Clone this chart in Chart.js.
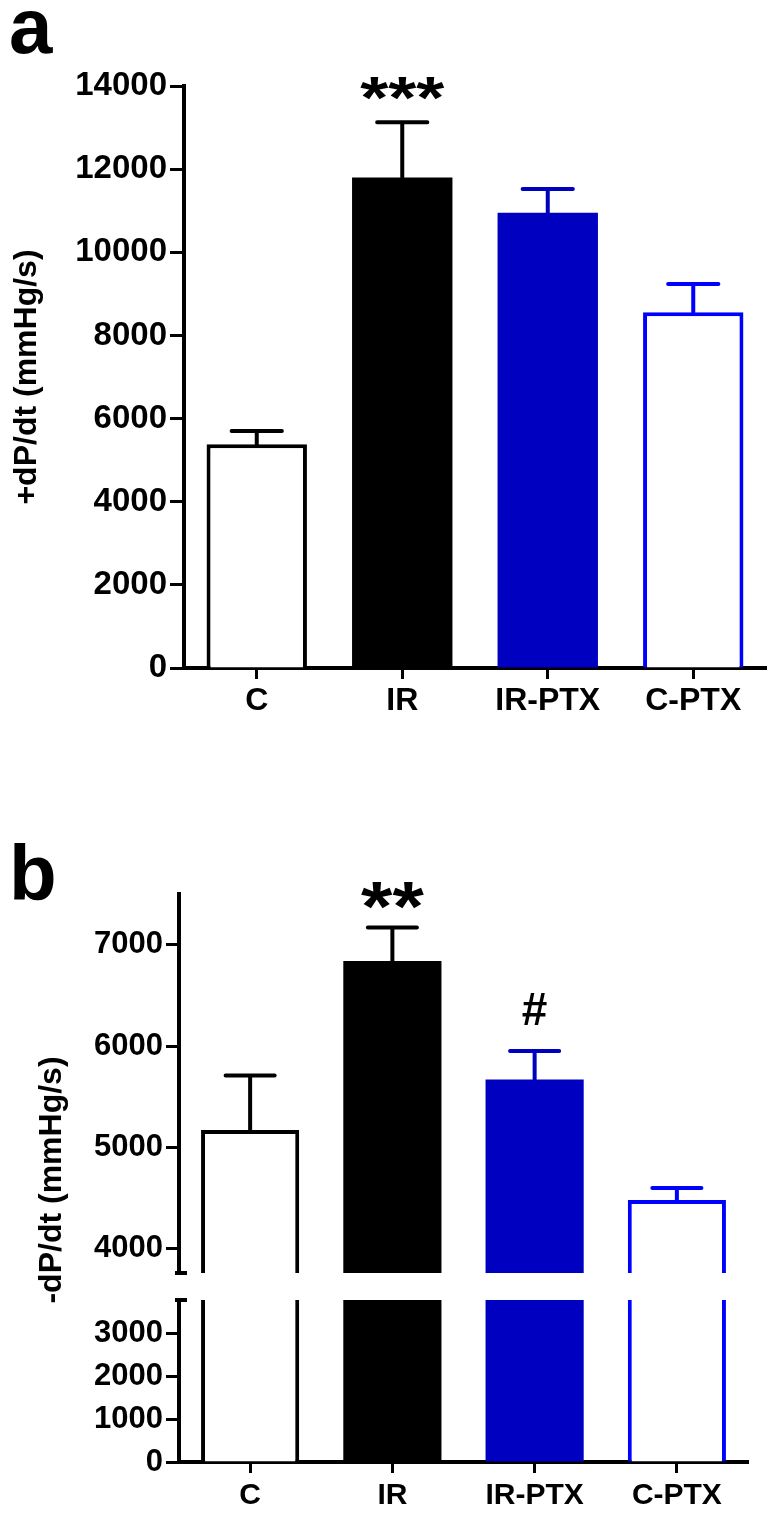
<!DOCTYPE html>
<html>
<head>
<meta charset="utf-8">
<script src="https://cdn.jsdelivr.net/npm/chart.js@4.4.1/dist/chart.umd.min.js"></script>
<style>
  html, body { margin: 0; padding: 0; background: #fff; }
  body { width: 777px; height: 1513px; position: relative; overflow: hidden; font-family: 'Liberation Sans', Arial, sans-serif; }
  canvas { position: absolute; left: 0; }
  .panel-letter { position: absolute; font-weight: bold; font-size: 78px; line-height: 78px; color: #000; }
  .axis-title { position: absolute; width: 300px; height: 38px; font-weight: bold; font-size: 32px; line-height: 38px;
                white-space: nowrap; text-align: center; transform: rotate(-90deg); color: #000; }
</style>
</head>
<body>
<div class="panel-letter" style="left:9px; top:-13px;">a</div>
<canvas id="plusChart" width="777" height="760" style="top:0"></canvas>
<div class="panel-letter" style="left:9px; top:834px;">b</div>
<canvas id="minusTop" width="777" height="510" style="top:780px"></canvas>
<canvas id="minusBottom" width="777" height="223" style="top:1290px"></canvas>
<div class="axis-title" style="left:-100px; top:1161px;">-dP/dt (mmHg/s)</div>

<script>
// Data
const groups = ['C', 'IR', 'IR-PTX', 'C-PTX'];

// panel a: +dP/dt (mean, SEM)
const plusMean = [5380, 11800, 10950, 8560];
const plusSem = [320, 1330, 570, 680];
const plusMarks = ['', '***', '', ''];
const plusTicks = [0, 2000, 4000, 6000, 8000, 10000, 12000, 14000];

// panel b: -dP/dt (mean, SEM), broken axis
const minusMean = [5170, 6840, 5670, 4480];
const minusSem = [540, 330, 280, 120];
const minusMarks = ['', '**', '#', ''];
const minusUpperTicks = [4000, 5000, 6000, 7000];
const minusLowerTicks = [0, 1000, 2000, 3000];

// axis limits either side of the break
const upperMin = 3760, upperMax = 7500;
const lowerMin = 0, lowerMax = 3770;

// Styles
const FONT = "'Liberation Sans', Arial, sans-serif";
const fillColors = ['#ffffff', '#000000', '#0000c0', '#ffffff'];
const lineColors = ['#000000', '#000000', '#0000c0', '#0000ff'];
const outlineWidths = [4, 0, 0, 4];
const markStyle = {
    '***': { size: 60, stretch: 1.2, gap: -4 },
    '**': { size: 70, stretch: 1.15, gap: 4 },
    '#': { size: 46, stretch: 1, gap: -26 }
};

// Error bars + significance marks, drawn from the bar elements and the y scale
const errorBarPlugin = {
    id: 'errorBars',
    afterDatasetsDraw(chart, args, opts) {
        const ctx = chart.ctx;
        const y = chart.scales.y;
        const meta = chart.getDatasetMeta(0);
        ctx.save();
        meta.data.forEach((bar, i) => {
            if (opts.mean[i] > y.max) return;
            const x = bar.x;
            const yTop = y.getPixelForValue(opts.mean[i]);
            const yEnd = y.getPixelForValue(opts.mean[i] + opts.sem[i]);
            const half = bar.width * 0.25;
            ctx.strokeStyle = lineColors[i];
            ctx.lineWidth = 4;
            ctx.lineCap = 'round';
            ctx.beginPath();
            ctx.moveTo(x, yTop);
            ctx.lineTo(x, yEnd);
            ctx.moveTo(x - half, yEnd);
            ctx.lineTo(x + half, yEnd);
            ctx.stroke();

            const mark = opts.marks[i];
            if (mark) {
                const st = markStyle[mark];
                ctx.save();
                ctx.translate(x, yEnd + st.gap);
                ctx.scale(st.stretch, 1);
                ctx.fillStyle = '#000';
                ctx.font = 'bold ' + st.size + 'px ' + FONT;
                ctx.textAlign = 'center';
                ctx.textBaseline = 'alphabetic';
                ctx.fillText(mark, 0, 0);
                ctx.restore();
            }
        });
        ctx.restore();
    }
};

// Small caps at the ends of the broken y axis
const axisBreakPlugin = {
    id: 'axisBreak',
    afterDraw(chart, args, opts) {
        if (!opts.edge) return;
        const { ctx, chartArea } = chart;
        const yPix = opts.edge === 'bottom' ? chartArea.bottom : chartArea.top;
        ctx.save();
        ctx.strokeStyle = '#000';
        ctx.lineWidth = 4;
        ctx.beginPath();
        ctx.moveTo(chartArea.left - 4, yPix);
        ctx.lineTo(chartArea.left + 8, yPix);
        ctx.stroke();
        ctx.restore();
    }
};

function barDataset(values) {
    return {
        data: values,
        backgroundColor: fillColors,
        borderColor: lineColors,
        borderWidth: outlineWidths,
        borderSkipped: 'start',
        barPercentage: 0.69,
        categoryPercentage: 1,
        clip: 0
    };
}

function xAxis(show, fontSize, height, pad) {
    return {
        display: show,
        grid: { offset: false, drawOnChartArea: false, tickLength: 11, tickWidth: 3, tickColor: '#000' },
        border: { color: '#000', width: 4 },
        ticks: { color: '#000', font: { family: FONT, size: fontSize, weight: 'bold' }, padding: pad, maxRotation: 0 },
        afterFit: s => { s.height = height; s.paddingLeft = 0; s.paddingRight = 0; }
    };
}

function yAxis(min, max, tickValues, width, tickLen, fontSize) {
    return {
        min: min,
        max: max,
        afterBuildTicks: s => { s.ticks = tickValues.map(v => ({ value: v })); },
        grid: { drawOnChartArea: false, tickLength: tickLen, tickWidth: 3, tickColor: '#000' },
        border: { color: '#000', width: 4 },
        ticks: {
            color: '#000',
            font: { family: FONT, size: fontSize, weight: 'bold' },
            padding: 3,
            callback: v => String(v)
        },
        afterFit: s => { s.width = width; s.paddingTop = 0; s.paddingBottom = 0; }
    };
}

const baseOptions = {
    responsive: false,
    animation: false,
    devicePixelRatio: 1
};

// Panel a
const plusY = yAxis(0, 14000, plusTicks, 184, 14, 33);
plusY.title = {
    display: true,
    text: '+dP/dt (mmHg/s)',
    color: '#000',
    font: { family: FONT, size: 32, weight: 'bold' },
    padding: { top: 8, bottom: 0 }
};
new Chart(document.getElementById('plusChart'), {
    type: 'bar',
    data: { labels: groups, datasets: [barDataset(plusMean)] },
    options: Object.assign({}, baseOptions, {
        layout: { padding: { top: 86, right: 11, bottom: 0, left: 0 } },
        plugins: {
            legend: { display: false },
            tooltip: { enabled: false },
            errorBars: { mean: plusMean, sem: plusSem, marks: plusMarks }
        },
        scales: { x: xAxis(true, 32, 92, 3), y: plusY }
    }),
    plugins: [errorBarPlugin]
});

// Panel b, upper segment
new Chart(document.getElementById('minusTop'), {
    type: 'bar',
    data: { labels: groups, datasets: [barDataset(minusMean)] },
    options: Object.assign({}, baseOptions, {
        layout: { padding: { top: 114, right: 29, bottom: 17, left: 0 } },
        plugins: {
            legend: { display: false },
            tooltip: { enabled: false },
            errorBars: { mean: minusMean, sem: minusSem, marks: minusMarks },
            axisBreak: { edge: 'bottom' }
        },
        scales: { x: xAxis(false, 30, 0, 0), y: yAxis(upperMin, upperMax, minusUpperTicks, 179, 13, 31) }
    }),
    plugins: [errorBarPlugin, axisBreakPlugin]
});

// Panel b, lower segment
new Chart(document.getElementById('minusBottom'), {
    type: 'bar',
    data: { labels: groups, datasets: [barDataset(minusMean)] },
    options: Object.assign({}, baseOptions, {
        layout: { padding: { top: 10, right: 29, bottom: 0, left: 0 } },
        plugins: {
            legend: { display: false },
            tooltip: { enabled: false },
            errorBars: { mean: minusMean, sem: minusSem, marks: minusMarks },
            axisBreak: { edge: 'top' }
        },
        scales: { x: xAxis(true, 30, 51, 5), y: yAxis(lowerMin, lowerMax, minusLowerTicks, 179, 13, 31) }
    }),
    plugins: [errorBarPlugin, axisBreakPlugin]
});
</script>
</body>
</html>
